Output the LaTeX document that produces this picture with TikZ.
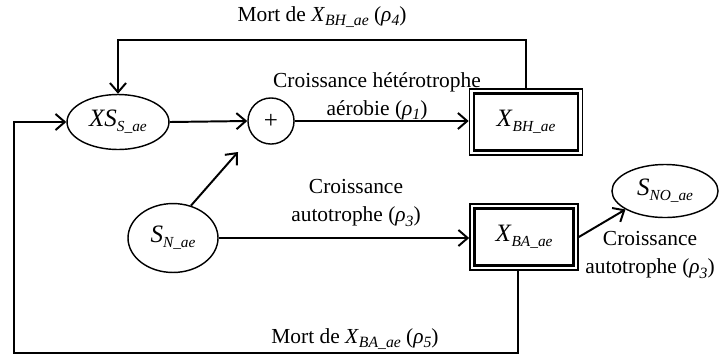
\documentclass[tikz,border=0pt]{standalone}
\usepackage{fontspec}
\setmainfont{Liberation Serif}
\usetikzlibrary{arrows.meta,shapes.geometric}
\newcommand\sbs[1]{\raisebox{-2.6pt}{\fontsize{8.8}{9}\selectfont\itshape #1}}
\newcommand\nsb[1]{\raisebox{-3pt}{\fontsize{8.6}{9}\selectfont\itshape #1}}
\begin{document}
\begin{tikzpicture}[x=0.56pt,y=-0.56pt,
  font=\fontsize{12}{15.7}\selectfont,
  lab/.style={align=center, inner sep=0pt},
  nfont/.style={font=\fontsize{14}{16}\selectfont},
  ell/.style={draw, ellipse, line width=0.8pt, inner sep=0pt, nfont},
  dbox/.style={draw, line width=1.3pt, inner sep=0pt, outer sep=3pt, nfont},
  outerbox/.style={line width=0.8pt},
  conn/.style={line width=1.1pt, -{Straight Barb[length=5.2pt,width=9pt]}}]
\useasboundingbox (0,0) rectangle (720,355);

\node[ell, minimum width=57.1pt, minimum height=30.8pt] (xs) at (118,122) {\textit{XS}\nsb{S\_ae}};
\node[circle, draw, line width=0.8pt, minimum size=25.8pt, inner sep=0pt, nfont] (plus) at (271,121) {+};
\node[dbox, minimum width=58.2pt, minimum height=31.9pt] (xbh) at (526,122) {\textit{X}\nsb{BH\_ae}};
\node[ell, minimum width=50.4pt, minimum height=38.6pt] (sn) at (173,238) {\textit{S}\nsb{N\_ae}};
\node[dbox, minimum width=55.4pt, minimum height=31.9pt] (xba) at (524,237) {\textit{X}\nsb{BA\_ae}};
\node[ell, minimum width=59.4pt, minimum height=29.7pt] (sno) at (665,191) {\textit{S}\nsb{NO\_ae}};

\draw[outerbox] ([shift={(0.4pt,-0.4pt)}]xbh.north west) rectangle ([shift={(-0.4pt,0.4pt)}]xbh.south east);
\draw[outerbox] ([shift={(0.4pt,-0.4pt)}]xba.north west) rectangle ([shift={(-0.4pt,0.4pt)}]xba.south east);

\node[lab] (l4) at (322,17) {Mort de \textit{X}\sbs{BH\_ae} (\textit{ρ}\sbs{4})};
\node[lab] (l1) at (377,96) {Croissance hétérotrophe\\aérobie (\textit{ρ}\sbs{1})};
\node[lab] (l3a) at (356,203) {Croissance\\autotrophe (\textit{ρ}\sbs{3})};
\node[lab] (l3b) at (650,255) {Croissance\\autotrophe (\textit{ρ}\sbs{3})};
\node[lab] (l5) at (355,339) {Mort de \textit{X}\sbs{BA\_ae} (\textit{ρ}\sbs{5})};

\draw[conn] (xs.east) -- (plus.west);
\draw[conn] (plus.east) -- (plus.east -| xbh.west);
\coordinate (t2) at (118,40);
\draw[conn] (xbh.north) |- (t2) -- (xs.north);
\coordinate (snend) at (238,152);
\draw[conn] (sn.61) -- (snend);
\draw[conn] (sn.east) -- (sn.east -| xba.west);
\draw[conn] (xba.east) -- (sno.205);
\coordinate (b1) at (518,353);
\coordinate (b2) at (14,353);
\draw[conn] (xba.south -| b1) -- (b1) -- (b2) |- (xs.west);
\end{tikzpicture}
\end{document}
